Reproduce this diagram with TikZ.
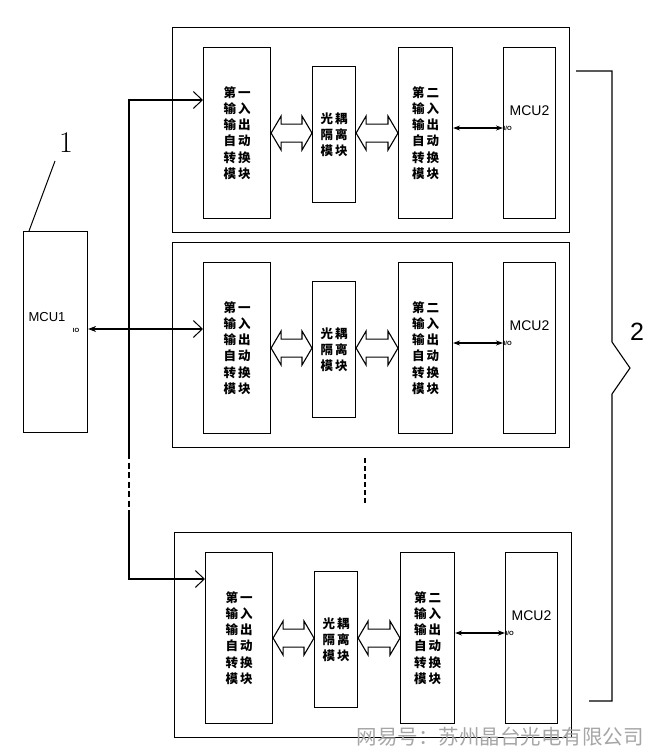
\documentclass[tikz,border=0pt]{standalone}
\usepackage{fontspec}
\newfontfamily\cjk{Noto Sans CJK SC}
\newfontfamily\lsans{Liberation Sans}
\usetikzlibrary{arrows.meta,calc}
\tikzset{
  box/.style={draw, line width=1.1pt, inner sep=0pt, anchor=north west},
  modtext/.style={font=\cjk\bfseries\fontsize{12.5}{16.2}\selectfont, align=center},
  hollow/.style={line width=1.1pt, line join=miter},
  openhead/.style={-{Straight Barb[length=9pt,width=17pt,line width=1pt]}},
  iolink/.style={line width=1.3pt, {Stealth[length=7pt,width=5pt]}-{Stealth[length=7pt,width=5pt]}},
  mcutext/.style={font=\lsans\fontsize{14}{14}\selectfont, inner sep=0pt},
  tinytext/.style={font=\lsans\bfseries\fontsize{6}{6}\selectfont, inner sep=0.5pt},
}
\newcommand\gp{\kern2pt}
\newcommand\hollowarrow[2]{%
  \draw[hollow] let \p1=(#1), \p2=(#2) in
    (\x1,\y1) -- (\x1+10pt,\y1+17pt) -- (\x1+10pt,\y1+9pt) -- (\x2-10pt,\y1+9pt)
    -- (\x2-10pt,\y1+17pt) -- (\x2,\y1) -- (\x2-10pt,\y1-17pt) -- (\x2-10pt,\y1-9pt)
    -- (\x1+10pt,\y1-9pt) -- (\x1+10pt,\y1-17pt) -- cycle;}
\newcommand\unitblk[3]{%
  \node[box, minimum width=397pt, minimum height=205pt] (#1o) at (172+#2,27+#3) {};
  \node[box, modtext, minimum width=67pt, minimum height=171pt] (#1a) at (203+#2,47+#3)
    {第\gp 一\\输\gp 入\\输\gp 出\\自\gp 动\\转\gp 换\\模\gp 块};
  \node[box, modtext, minimum width=43pt, minimum height=136pt] (#1b) at (312+#2,66+#3)
    {光\gp 耦\\隔\gp 离\\模\gp 块};
  \node[box, modtext, minimum width=54pt, minimum height=171pt] (#1c) at (398+#2,47+#3)
    {第\gp 二\\输\gp 入\\输\gp 出\\自\gp 动\\转\gp 换\\模\gp 块};
  \node[box, minimum width=52pt, minimum height=171pt] (#1m) at (503+#2,47+#3) {};
  \node[mcutext] (#1ml) at ($(#1m.north)+(0,64)$) {MCU2};
  \coordinate (#1p) at ($(#1c.north east)+(0,81)$);
  \coordinate (#1q) at (#1m.west |- #1p);
  \draw[iolink] (#1p) -- (#1q);
  \node[tinytext, anchor=west] (#1il) at (#1q) {I/O};
  \hollowarrow{#1a.east}{#1b.west |- #1a.east}
  \hollowarrow{#1b.east |- #1a.east}{#1c.west |- #1a.east}
}
\begin{document}
\begin{tikzpicture}[x=1pt,y=-1pt]
\fill[white] (0,0) rectangle (660,756);
\useasboundingbox (0,0) rectangle (660,756);

% three units
\unitblk{u1}{0}{0}
\unitblk{u2}{0}{215}
\unitblk{u3}{2}{505}

% MCU1
\node[box, minimum width=64pt, minimum height=201pt] (mcu1) at (23,231) {};
\node[mcutext, font=\lsans\fontsize{13}{13}\selectfont] (mcu1l) at (47,317) {MCU1};
\coordinate (io) at (0,329);
\draw[line width=1.3pt, {Stealth[length=8pt,width=6pt]}-{Straight Barb[length=9pt,width=17pt,line width=1pt]}]
  (mcu1.east |- io) -- (u2a.west |- io);
\node[tinytext] (iol) at (76,330) {IO};

% label 1
\coordinate (l1a) at (29,231);
\coordinate (l1b) at (55,161);
\draw[line width=1pt] (l1a) -- (l1b);
\node[font=\fontsize{30}{30}\selectfont, inner sep=0pt] (n1) at (66,143) {1};

% bus
\coordinate (bt) at (129,100);
\coordinate (d1) at (129,453);
\coordinate (d2) at (129,510);
\coordinate (bb) at (129,579);
\draw[line width=1.2pt, openhead] (d1) -- (bt) -- (u1a.west |- bt);
\draw[line width=1.2pt, dash pattern=on 6pt off 3.5pt] (d1) -- (d2);
\draw[line width=1.2pt, openhead] (d2) -- (bb) -- (u3a.west |- bb);

% vertical dots between units
\coordinate (v1) at (365,458);
\coordinate (v2) at (365,504);
\draw[line width=1.4pt, dash pattern=on 5pt off 3pt] (v1) -- (v2);

% brace 2
\coordinate (b1) at (576,71);
\coordinate (b2) at (612,71);
\coordinate (b3) at (612,342);
\coordinate (b4) at (630,368);
\coordinate (b5) at (612,394);
\coordinate (b6) at (612,701);
\coordinate (b7) at (589,701);
\draw[line width=1.1pt, line join=miter] (b1) -- (b2) -- (b3) -- (b4) -- (b5) -- (b6) -- (b7);
\node[font=\lsans\fontsize{25}{25}\selectfont, inner sep=0pt] (n2) at (637,332) {2};

% watermark
\node[font=\cjk\fontsize{20.5}{21}\selectfont, text=black!35, inner sep=0pt] (wm) at (500,737) {网易号：苏州晶台光电有限公司};
\end{tikzpicture}
\end{document}
